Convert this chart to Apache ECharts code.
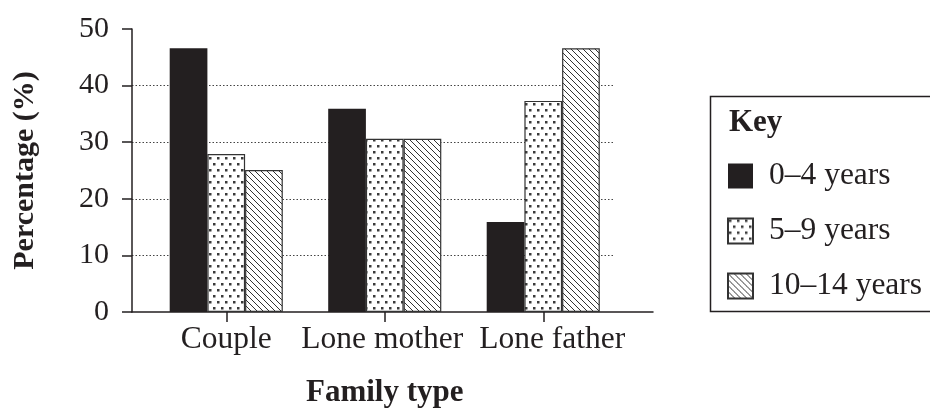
<!DOCTYPE html>
<html>
<head>
<meta charset="utf-8">
<script src="https://cdn.jsdelivr.net/npm/echarts@6/dist/echarts.min.js"></script>
<style>
html, body { margin: 0; padding: 0; background: #fff; }
#chart { width: 930px; height: 410px; }
</style>
</head>
<body>
<div id="chart"></div>
<script>
// data
var familyTypes = ['Couple', 'Lone mother', 'Lone father']
var ageGroups = ['0–4 years', '5–9 years', '10–14 years']
var age0to4 = [46.6, 35.9, 15.9]
var age5to9 = [27.9, 30.6, 37.3]
var age10to14 = [25.1, 30.6, 46.6]
var yMin = 0
var yMax = 50
var yStep = 10

var ink = '#231f20'
var serif = '"Liberation Serif", "Times New Roman", serif'

// fill patterns
function dotPattern() {
  var c = document.createElement('canvas')
  c.width = 8
  c.height = 12
  var ctx = c.getContext('2d')
  ctx.fillStyle = '#fff'
  ctx.fillRect(0, 0, 8, 12)
  ctx.fillStyle = '#3a3a3a'
  ctx.fillRect(1, 1, 2.5, 2.5)
  ctx.fillRect(5, 7, 2.5, 2.5)
  return c
}

function hatchPattern() {
  var c = document.createElement('canvas')
  c.width = 6
  c.height = 6
  var ctx = c.getContext('2d')
  ctx.fillStyle = '#fff'
  ctx.fillRect(0, 0, 6, 6)
  ctx.strokeStyle = '#333'
  ctx.lineWidth = 1
  ctx.beginPath()
  ctx.moveTo(-1, -1); ctx.lineTo(7, 7)
  ctx.moveTo(-1, 5); ctx.lineTo(1, 7)
  ctx.moveTo(5, -1); ctx.lineTo(7, 1)
  ctx.stroke()
  return c
}

var chart = echarts.init(document.getElementById('chart'), null, { renderer: 'canvas' })

var gridBase = { top: 29, bottom: 98, containLabel: false, outerBoundsMode: 'none' }

chart.setOption({
  animation: false,
  textStyle: { fontFamily: serif, color: ink },
  title: {
    text: 'Key',
    left: 724,
    top: 102,
    textStyle: { fontFamily: serif, fontSize: 31, fontWeight: 'bold', color: ink }
  },
  // key box runs off the right edge, as in the original
  graphic: [{
    type: 'rect',
    shape: { x: 710.5, y: 96.5, width: 260, height: 215 },
    style: { fill: 'none', stroke: ink, lineWidth: 1.5 },
    silent: true
  }],
  legend: {
    data: ageGroups,
    orient: 'vertical',
    left: 710,
    top: 96,
    padding: [64, 20, 14, 17],
    itemWidth: 25,
    itemHeight: 25,
    itemGap: 23,
    icon: 'rect',
    selectedMode: false,
    textStyle: { fontFamily: serif, fontSize: 31.5, color: ink, padding: [0, 0, 0, 11] }
  },
  grid: [
    // bars
    Object.assign({ left: 147, right: 307.5 }, gridBase),
    // y axis + dotted grid lines
    Object.assign({ left: 132, right: 316 }, gridBase),
    // long baseline
    Object.assign({ left: 132, right: 277 }, gridBase)
  ],
  xAxis: [
    {
      type: 'category',
      gridIndex: 0,
      data: familyTypes,
      name: 'Family type',
      nameLocation: 'middle',
      nameGap: 65,
      nameTextStyle: { fontFamily: serif, fontSize: 31, fontWeight: 'bold', color: ink },
      axisLine: { show: false },
      axisTick: { show: true, alignWithLabel: true, length: 10, lineStyle: { color: ink, width: 1.5 } },
      axisLabel: {
        fontFamily: serif,
        fontSize: 31.5,
        color: ink,
        margin: 12,
        interval: 0,
        hideOverlap: false,
        formatter: function (v, i) {
          return ['{a|' + v + '}', '{b|' + v + '}', '{c|' + v + '}'][i]
        },
        rich: {
          a: { fontFamily: serif, fontSize: 31.5, color: ink },
          b: { fontFamily: serif, fontSize: 31.5, color: ink, padding: [0, 5, 0, 0] },
          c: { fontFamily: serif, fontSize: 31.5, color: ink, padding: [0, 0, 0, 18] }
        }
      },
      splitLine: { show: false }
    },
    { type: 'value', gridIndex: 1, show: false },
    {
      type: 'value',
      gridIndex: 2,
      axisLine: { show: true, lineStyle: { color: ink, width: 1.5 } },
      axisTick: { show: false },
      axisLabel: { show: false },
      splitLine: { show: false }
    }
  ],
  yAxis: [
    { type: 'value', gridIndex: 0, min: yMin, max: yMax, show: false },
    {
      type: 'value',
      gridIndex: 1,
      min: yMin,
      max: yMax,
      interval: yStep,
      name: 'Percentage (%)',
      nameLocation: 'middle',
      nameGap: 92,
      nameTextStyle: { fontFamily: serif, fontSize: 30, fontWeight: 'bold', color: ink },
      axisLine: { show: true, lineStyle: { color: ink, width: 1.5 } },
      axisTick: { show: true, length: 10, lineStyle: { color: ink, width: 1.5 } },
      axisLabel: { fontFamily: serif, fontSize: 30, color: ink, margin: 23 },
      splitLine: {
        show: true,
        showMinLine: false,
        showMaxLine: false,
        lineStyle: { color: '#444', width: 1, type: [1.5, 2] }
      }
    },
    { type: 'value', gridIndex: 2, min: yMin, max: yMax, show: false }
  ],
  series: [
    {
      name: ageGroups[0],
      type: 'bar',
      xAxisIndex: 0,
      yAxisIndex: 0,
      data: age0to4,
      barWidth: 37.7,
      barGap: '0%',
      itemStyle: { color: ink }
    },
    {
      name: ageGroups[1],
      type: 'bar',
      xAxisIndex: 0,
      yAxisIndex: 0,
      data: age5to9,
      barWidth: 37.7,
      barGap: '0%',
      itemStyle: { color: { image: dotPattern(), repeat: 'repeat' }, borderColor: '#333', borderWidth: 1.2 }
    },
    {
      name: ageGroups[2],
      type: 'bar',
      xAxisIndex: 0,
      yAxisIndex: 0,
      data: age10to14,
      barWidth: 37.7,
      barGap: '0%',
      itemStyle: { color: { image: hatchPattern(), repeat: 'repeat' }, borderColor: '#333', borderWidth: 1.2 }
    }
  ]
})
</script>
</body>
</html>
